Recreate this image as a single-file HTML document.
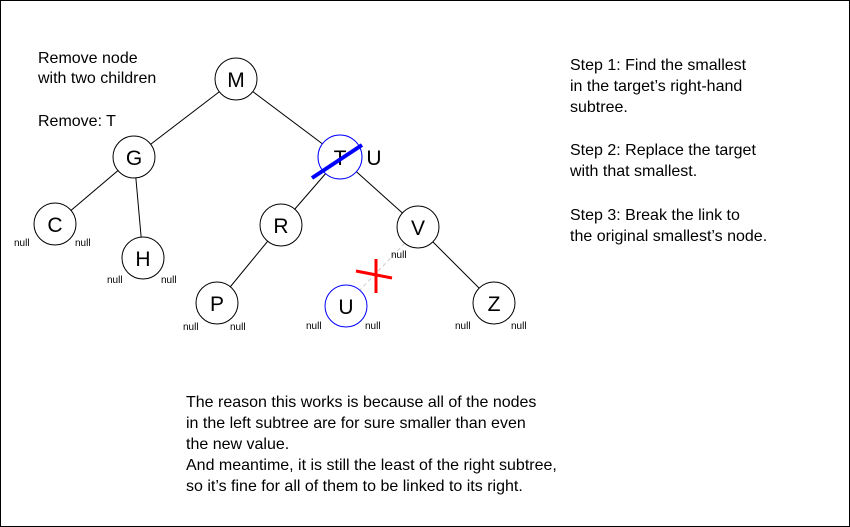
<!DOCTYPE html>
<html><head><style>
body{margin:0;background:#fff}
svg{display:block}
text{font-family:"Liberation Sans",sans-serif}
</style></head><body>
<svg width="850" height="527" viewBox="0 0 850 527">
<rect x="0.5" y="0.5" width="849" height="526" fill="#fff" stroke="#000"/>
<g stroke="#000" stroke-width="1">
<line x1="236" y1="79" x2="134" y2="157"/>
<line x1="236" y1="79" x2="340" y2="157"/>
<line x1="134" y1="157" x2="55" y2="224"/>
<line x1="134" y1="157" x2="143" y2="258"/>
<line x1="340" y1="157" x2="281" y2="225"/>
<line x1="340" y1="157" x2="418" y2="227"/>
<line x1="281" y1="225" x2="217" y2="303"/>
<line x1="418" y1="227" x2="494" y2="303"/>
</g>
<line x1="405" y1="243" x2="360" y2="290" stroke="#ccc" stroke-dasharray="4,3"/>
<g fill="#fff" stroke="#000">
<circle cx="236" cy="79" r="21"/>
<circle cx="134" cy="157" r="21"/>
<circle cx="55" cy="224" r="21"/>
<circle cx="143" cy="258" r="21"/>
<circle cx="281" cy="225" r="21"/>
<circle cx="418" cy="227" r="21"/>
<circle cx="217" cy="303" r="21"/>
<circle cx="494" cy="303" r="21"/>
<circle cx="340" cy="157" r="22" stroke="#00f"/>
<circle cx="346" cy="306" r="21" stroke="#00f"/>
</g>
<g font-size="21" text-anchor="middle">
<text x="236" y="87">M</text>
<text x="134" y="165">G</text>
<text x="55" y="232">C</text>
<text x="143" y="266">H</text>
<text x="340" y="165">T</text>
<text x="281" y="233">R</text>
<text x="418" y="235">V</text>
<text x="217" y="311">P</text>
<text x="346" y="314">U</text>
<text x="494" y="311">Z</text>
<text x="374" y="165">U</text>
</g>
<line x1="312" y1="178" x2="362" y2="145" stroke="#00f" stroke-width="4"/>
<g stroke="#f00" stroke-width="3">
<line x1="356" y1="271" x2="392" y2="278"/>
<line x1="376" y1="259" x2="376" y2="293"/>
</g>
<g font-size="10">
<text x="14" y="246">null</text><text x="75" y="246">null</text>
<text x="107" y="283">null</text><text x="161" y="283">null</text>
<text x="183" y="330">null</text><text x="230" y="330">null</text>
<text x="306" y="329">null</text><text x="365" y="329">null</text>
<text x="391" y="258">null</text>
<text x="455" y="329">null</text><text x="511" y="329">null</text>
</g>
<g font-size="16">
<text x="38" y="63">Remove node</text>
<text x="38" y="83">with two children</text>
<text x="38" y="126">Remove: T</text>
<text x="570" y="70">Step 1: Find the smallest</text>
<text x="570" y="91">in the target’s right-hand</text>
<text x="570" y="112">subtree.</text>
<text x="570" y="155">Step 2: Replace the target</text>
<text x="570" y="176">with that smallest.</text>
<text x="570" y="220">Step 3: Break the link to</text>
<text x="570" y="241">the original smallest’s node.</text>
<text x="186" y="407">The reason this works is because all of the nodes</text>
<text x="186" y="428">in the left subtree are for sure smaller than even</text>
<text x="186" y="449">the new value.</text>
<text x="186" y="470">And meantime, it is still the least of the right subtree,</text>
<text x="186" y="491">so it’s fine for all of them to be linked to its right.</text>
</g>
</svg>
</body></html>
